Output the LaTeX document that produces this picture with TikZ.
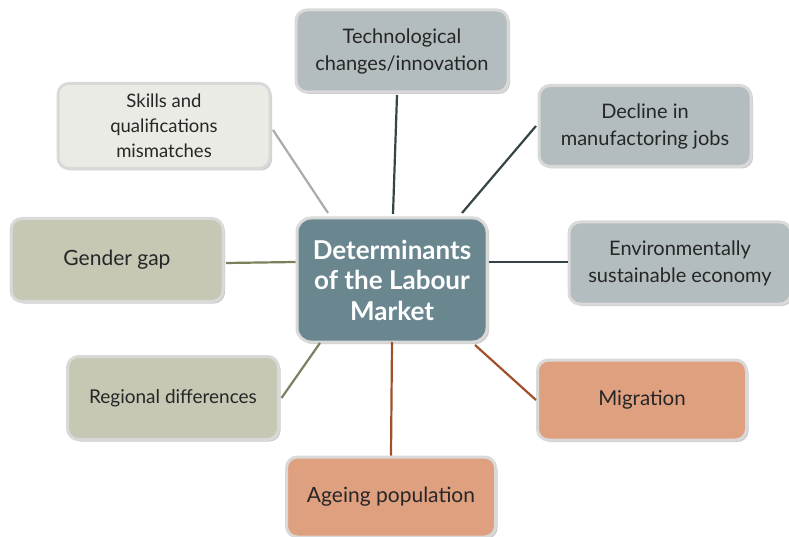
\documentclass[tikz,border=0pt]{standalone}
\usepackage{fontspec}
\setmainfont{Lato}
\usetikzlibrary{shadows}
\definecolor{rim}{HTML}{D9D9D9}
\definecolor{cgray}{HTML}{B3BCBE}
\definecolor{clight}{HTML}{EBEBE6}
\definecolor{colive}{HTML}{C6C8B4}
\definecolor{csalmon}{HTML}{DFA080}
\definecolor{ccenter}{HTML}{6A8790}
\definecolor{ldark}{HTML}{354446}
\definecolor{llight}{HTML}{ABABAB}
\definecolor{lolive}{HTML}{7C7F5C}
\definecolor{lrust}{HTML}{A0502A}
\definecolor{txt}{HTML}{262626}
\tikzset{
  box/.style={draw=rim, line width=3pt, rounded corners=11pt, align=center,
    text=txt, font=\fontsize{20}{27}\selectfont,
    drop shadow={shadow xshift=2pt, shadow yshift=-2pt, opacity=0.35, fill=black!60}},
  link/.style={line width=2.2pt}
}
\begin{document}
\begin{tikzpicture}[x=1pt,y=-1pt]
\useasboundingbox (0,0) rectangle (789,537);
\clip (0,0) rectangle (789,537);
\node[box, fill=cgray, minimum width=212pt, minimum height=82pt] (tech) at (402,51) {Technological\\changes/innovation};
\node[box, fill=clight, minimum width=212pt, minimum height=85pt, font=\fontsize{18.5}{25}\selectfont] (skills) at (164,126) {Skills and\\qualifications\\mismatches};
\node[box, fill=cgray, minimum width=212pt, minimum height=81pt] (decl) at (645,126) {Decline in\\manufactoring jobs};
\node[box, fill=colive, minimum width=212pt, minimum height=83pt, font=\fontsize{21}{27}\selectfont] (gender) at (117,260) {Gender gap};
\node[box, fill=cgray, minimum width=222pt, minimum height=82pt] (env) at (680,263) {Environmentally\\sustainable economy};
\node[box, fill=colive, minimum width=211pt, minimum height=83pt, font=\fontsize{19}{25}\selectfont] (reg) at (173,398) {Regional differences};
\node[box, fill=csalmon, minimum width=209pt, minimum height=80pt, font=\fontsize{20.5}{27}\selectfont] (mig) at (642,400) {Migration};
\node[box, fill=csalmon, minimum width=209pt, minimum height=80pt, font=\fontsize{21}{27}\selectfont] (age) at (391,497) {Ageing population};
\node[box, fill=ccenter, minimum width=190pt, minimum height=124pt, rounded corners=14pt, text=white, font=\bfseries\fontsize{26}{30.5}\selectfont] (center) at (392,280) {Determinants\\of the Labour\\Market};
\draw[link, ldark] (tech.south) ++(-5,1.5) -- (393,214);
\draw[link, llight] (skills.east) ++(1.5,4) -- (328,213);
\draw[link, ldark] (decl.west) ++(-1.5,0) -- (462,213);
\draw[link, lolive] (gender.east) ++(1.5,3) -- (center.west |- 262,262);
\draw[link, ldark] (center.east |- 262,262) -- (env.west |- 262,262);
\draw[link, lolive!85!gray] (reg.east) ++(1.5,0) -- (320,343);
\draw[link, lrust] (475,345) -- (mig.west);
\draw[link, lrust] (392,342) -- (age.north);
\end{tikzpicture}
\end{document}
